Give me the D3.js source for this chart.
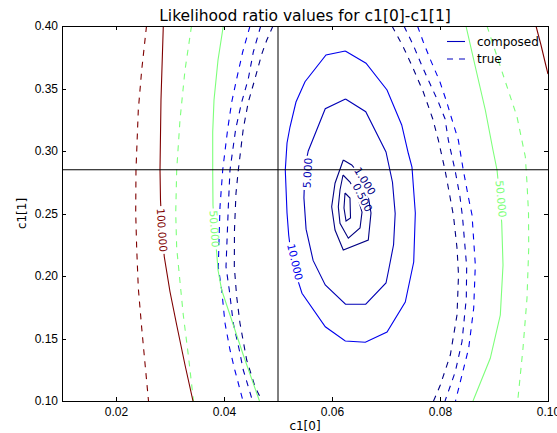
<!DOCTYPE html>
<meta charset="utf-8">
<style>
body { margin: 0; background: #fff; }
svg { font-family: "DejaVu Sans", sans-serif; }
.axis path { display: none; }
.axis line { stroke: #000; stroke-width: 1px; shape-rendering: crispEdges; }
.axis text { font-size: 12px; fill: #000; }
.contour { fill: none; stroke-width: 1.1px; }
.clabel { font-size: 10.6px; }
.cross { stroke: #000; stroke-width: 1px; }
.frame { fill: none; stroke: #000; stroke-width: 1px; shape-rendering: crispEdges; }
</style>
<body>
<svg width="557" height="433"></svg>
<script src="https://d3js.org/d3.v7.min.js"></script>
<script>
// contour levels and their (jet) colours
var levels = [0.1, 0.5, 1, 5, 10, 50, 100];
var levelColors = ["#00007f", "#00007f", "#000084", "#0000b6", "#0000ed", "#7dff7a", "#7f0000"];

var xTicks = [0.02, 0.04, 0.06, 0.08, 0.10];
var yTicks = [0.10, 0.15, 0.20, 0.25, 0.30, 0.35, 0.40];

var crossX = 0.05, crossY = 0.285;

// composed likelihood ratio (solid)
var composed01 = [[0.06241,0.2664],[0.06333,0.2624],[0.06343,0.2464],[0.0626,0.244],[0.06222,0.2544],[0.06241,0.2664]];
var composed05 = [[0.06204,0.2808],[0.06333,0.2752],[0.06463,0.2648],[0.06556,0.2512],[0.06519,0.2384],[0.06302,0.2302],[0.06148,0.2422],[0.06117,0.2554],[0.06148,0.2688],[0.06204,0.2808]];
var composed1 = [[0.06209,0.2928],[0.06365,0.2888],[0.06519,0.2808],[0.06667,0.2648],[0.06722,0.2504],[0.06672,0.2288],[0.06209,0.2208],[0.06056,0.2368],[0.05994,0.2554],[0.06056,0.2742],[0.06209,0.2928]];
var composed5 = [[0.0625,0.3416],[0.06625,0.3314],[0.07,0.2992],[0.0712,0.275],[0.0717,0.25],[0.0714,0.225],[0.0705,0.205],[0.07,0.1944],[0.06625,0.1774],[0.0625,0.1774],[0.05875,0.1928],[0.0565,0.2125],[0.0552,0.2375],[0.0548,0.2625],[0.055,0.2875],[0.0556,0.30],[0.05875,0.3338],[0.0625,0.3416]];
var composed10 = [[0.06246,0.380],[0.0663,0.3702],[0.07019,0.3488],[0.07291,0.3208],[0.07413,0.2982],[0.07481,0.2872],[0.07543,0.2504],[0.07513,0.2112],[0.07357,0.1792],[0.07019,0.1552],[0.06617,0.147],[0.06246,0.148],[0.05876,0.1594],[0.05444,0.1862],[0.05259,0.2112],[0.05198,0.2328],[0.05167,0.2504],[0.05135,0.2848],[0.05167,0.3064],[0.05222,0.3192],[0.05333,0.3392],[0.0550,0.3554],[0.05889,0.3768],[0.06246,0.380]];
var composedL50 = [[0.03987,0.4],[0.03889,0.3728],[0.03815,0.3408],[0.03791,0.3152],[0.03791,0.2848],[0.03796,0.2568],[0.03824,0.2368],[0.03865,0.2184],[0.03889,0.2048],[0.03957,0.1888],[0.04111,0.1688],[0.04357,0.1368],[0.04657,0.1]];
var composedR50 = [[0.08481,0.4],[0.08654,0.3674],[0.08839,0.3328],[0.08981,0.3008],[0.09056,0.2848],[0.09102,0.2648],[0.09143,0.2424],[0.09167,0.2088],[0.09117,0.1688],[0.08931,0.1342],[0.08611,0.1]];
var composedL100 = [[0.02876,0.4],[0.02833,0.3408],[0.02815,0.2848],[0.02824,0.2608],[0.02852,0.2368],[0.02894,0.2154],[0.03,0.1874],[0.03124,0.1608],[0.03278,0.1288],[0.03426,0.1]];
var composedR100 = [[0.09778,0.4],[0.0987,0.3848],[0.09963,0.368],[0.1,0.3616]];

// true likelihood ratio (dashed)
var trueL1 = [[0.04907,0.4],[0.04791,0.3886],[0.04698,0.3774],[0.04574,0.3578],[0.0445,0.3392],[0.04357,0.3178],[0.04265,0.2848],[0.04222,0.2662],[0.04194,0.2368],[0.04191,0.2074],[0.04235,0.1834],[0.04296,0.1622],[0.0442,0.1328],[0.04574,0.1114],[0.04704,0.1]];
var trueL5 = [[0.0468,0.4],[0.04543,0.3792],[0.0445,0.3578],[0.04328,0.3392],[0.04217,0.3178],[0.04111,0.2848],[0.0408,0.2554],[0.04037,0.2074],[0.04098,0.1888],[0.04172,0.1622],[0.04283,0.1408],[0.04357,0.1248],[0.04528,0.1]];
var trueL10 = [[0.04481,0.4],[0.04346,0.3792],[0.04235,0.3578],[0.04143,0.3392],[0.04069,0.3178],[0.03976,0.2848],[0.03926,0.2554],[0.03894,0.2074],[0.03957,0.1888],[0.04019,0.1622],[0.04111,0.1408],[0.042,0.1248],[0.04352,0.1]];
var trueL50 = [[0.03398,0.4],[0.03278,0.3648],[0.03185,0.3248],[0.03124,0.2848],[0.03106,0.2504],[0.03124,0.2224],[0.03185,0.1954],[0.03246,0.1688],[0.03339,0.1368],[0.03435,0.1]];
var trueL100 = [[0.02565,0.4],[0.02476,0.3648],[0.02413,0.3328],[0.0237,0.2848],[0.02365,0.2504],[0.02383,0.2224],[0.02413,0.1904],[0.02476,0.1584],[0.02602,0.1]];
var trueR1 = [[0.07111,0.4],[0.0732,0.3832],[0.07506,0.3658],[0.07691,0.3472],[0.07865,0.3258],[0.07969,0.3088],[0.08093,0.2848],[0.08185,0.2634],[0.0825,0.248],[0.08315,0.2224],[0.08343,0.2008],[0.08315,0.1688],[0.08191,0.1368],[0.08006,0.1128],[0.0788,0.1]];
var trueR5 = [[0.07333,0.4],[0.07506,0.3846],[0.07661,0.3686],[0.07815,0.3538],[0.07969,0.3392],[0.08093,0.3258],[0.08154,0.3088],[0.08278,0.2848],[0.0837,0.2634],[0.08417,0.2472],[0.08494,0.2074],[0.08487,0.1822],[0.08407,0.1474],[0.08283,0.1234],[0.08093,0.1]];
var trueR10 = [[0.07583,0.4],[0.07691,0.3872],[0.07815,0.3738],[0.08,0.3552],[0.08124,0.3392],[0.08217,0.3258],[0.08339,0.3088],[0.08431,0.2848],[0.08524,0.2634],[0.08593,0.2488],[0.08654,0.2088],[0.08624,0.1742],[0.08531,0.1422],[0.08287,0.1]];
var trueR50 = [[0.0887,0.4],[0.0918,0.3594],[0.09426,0.3274],[0.0958,0.2954],[0.09611,0.2744],[0.09639,0.2504],[0.09643,0.2222],[0.09611,0.1822],[0.09537,0.1422],[0.09439,0.1]];

// inline contour labels: curve, text, data position, angle
var labelSpots = [
  { curve: "composedL100", text: "100.000", x: 0.02852, y: 0.2368, angle: 86 },
  { curve: "composedL50", text: "50.000", x: 0.03824, y: 0.2376, angle: 86 },
  { curve: "composedR50", text: "50.000", x: 0.0913, y: 0.2616, angle: 85 },
  { curve: "composed10", text: "10.000", x: 0.05315, y: 0.2112, angle: 77 },
  { curve: "composed5", text: "5.000", x: 0.05546, y: 0.2824, angle: -87 },
  { curve: "composed1", text: "1.000", x: 0.06611, y: 0.276, angle: 58 },
  { curve: "composed05", text: "0.500", x: 0.06565, y: 0.2628, angle: 63 }
];

var curves = [
  { id: "trueL100", level: 100, dashed: true, pts: trueL100 },
  { id: "trueL50", level: 50, dashed: true, pts: trueL50 },
  { id: "trueL10", level: 10, dashed: true, pts: trueL10 },
  { id: "trueL5", level: 5, dashed: true, pts: trueL5 },
  { id: "trueL1", level: 1, dashed: true, pts: trueL1 },
  { id: "trueR1", level: 1, dashed: true, pts: trueR1 },
  { id: "trueR5", level: 5, dashed: true, pts: trueR5 },
  { id: "trueR10", level: 10, dashed: true, pts: trueR10 },
  { id: "trueR50", level: 50, dashed: true, pts: trueR50 },
  { id: "composedL100", level: 100, dashed: false, pts: composedL100 },
  { id: "composedR100", level: 100, dashed: false, pts: composedR100 },
  { id: "composedL50", level: 50, dashed: false, pts: composedL50 },
  { id: "composedR50", level: 50, dashed: false, pts: composedR50 },
  { id: "composed10", level: 10, dashed: false, pts: composed10 },
  { id: "composed5", level: 5, dashed: false, pts: composed5 },
  { id: "composed1", level: 1, dashed: false, pts: composed1 },
  { id: "composed05", level: 0.5, dashed: false, pts: composed05 },
  { id: "composed01", level: 0.1, dashed: false, pts: composed01 }
];

var svg = d3.select("svg"),
    margin = {top: 26, right: 9, bottom: 32, left: 62},
    W = +svg.attr("width"), H = +svg.attr("height");

var x = d3.scaleLinear().domain([0.01, 0.10]).range([margin.left, W - margin.right]);
var y = d3.scaleLinear().domain([0.10, 0.40]).range([H - margin.bottom, margin.top]);
var color = d3.scaleOrdinal().domain(levels).range(levelColors);

var line = d3.line()
    .x(function(d) { return x(d[0]); })
    .y(function(d) { return y(d[1]); });

var defs = svg.append("defs");
defs.append("clipPath").attr("id", "plot-clip")
  .append("rect")
    .attr("x", x.range()[0]).attr("y", y.range()[1])
    .attr("width", x.range()[1] - x.range()[0])
    .attr("height", y.range()[0] - y.range()[1]);

var plot = svg.append("g").attr("clip-path", "url(#plot-clip)");

var paths = plot.selectAll("path.contour")
  .data(curves)
  .enter().append("path")
    .attr("class", "contour")
    .attr("d", function(d) { return line(d.pts); })
    .attr("stroke", function(d) { return color(d.level); })
    .attr("stroke-width", function(d) { return d.dashed && d.level <= 1 ? 2.8 : 1.1; })
    .attr("stroke-dasharray", function(d) { return d.dashed ? "6,6" : null; });

// labels, then cut the line underneath each one
var lab = plot.selectAll("text.clabel")
  .data(labelSpots)
  .enter().append("text")
    .attr("class", "clabel")
    .attr("text-anchor", "middle")
    .attr("dy", "0.36em")
    .attr("fill", function(d) { return color(curves.find(function(c) { return c.id === d.curve; }).level); })
    .attr("transform", function(d) { return "translate(" + x(d.x) + "," + y(d.y) + ") rotate(" + d.angle + ")"; })
    .text(function(d) { return d.text; });

lab.each(function(d, i) {
  var w = this.getComputedTextLength() + 4;
  var m = defs.append("mask").attr("id", "lm" + i)
      .attr("maskUnits", "userSpaceOnUse")
      .attr("x", 0).attr("y", 0).attr("width", W).attr("height", H);
  m.append("rect").attr("width", W).attr("height", H).attr("fill", "#fff");
  m.append("rect")
      .attr("x", -w / 2).attr("y", -6).attr("width", w).attr("height", 12)
      .attr("fill", "#000")
      .attr("transform", "translate(" + x(d.x) + "," + y(d.y) + ") rotate(" + d.angle + ")");
  paths.filter(function(c) { return c.id === d.curve; }).attr("mask", "url(#lm" + i + ")");
});

// cross hair
svg.append("line").attr("class", "cross")
    .attr("x1", x(crossX)).attr("x2", x(crossX))
    .attr("y1", y.range()[0]).attr("y2", y.range()[1]);
svg.append("line").attr("class", "cross")
    .attr("x1", x.range()[0]).attr("x2", x.range()[1])
    .attr("y1", y(crossY)).attr("y2", y(crossY));

// axes, ticks inside on all four sides
var fmt = d3.format(".2f");
svg.append("g").attr("class", "axis")
    .attr("transform", "translate(0," + y.range()[0] + ")")
    .call(d3.axisBottom(x).tickValues(xTicks).tickFormat(fmt).tickSizeInner(-4).tickSizeOuter(0).tickPadding(6));
svg.append("g").attr("class", "axis")
    .attr("transform", "translate(0," + y.range()[1] + ")")
    .call(d3.axisTop(x).tickValues(xTicks).tickFormat("").tickSizeInner(-4).tickSizeOuter(0));
svg.append("g").attr("class", "axis")
    .attr("transform", "translate(" + x.range()[0] + ",0)")
    .call(d3.axisLeft(y).tickValues(yTicks).tickFormat(fmt).tickSizeInner(-4).tickSizeOuter(0).tickPadding(4));
svg.append("g").attr("class", "axis")
    .attr("transform", "translate(" + x.range()[1] + ",0)")
    .call(d3.axisRight(y).tickValues(yTicks).tickFormat("").tickSizeInner(-4).tickSizeOuter(0));

svg.append("rect").attr("class", "frame")
    .attr("x", x.range()[0]).attr("y", y.range()[1])
    .attr("width", x.range()[1] - x.range()[0])
    .attr("height", y.range()[0] - y.range()[1]);

svg.append("text")
    .attr("x", (x.range()[0] + x.range()[1]) / 2).attr("y", 21)
    .attr("text-anchor", "middle").style("font-size", "15.5px")
    .text("Likelihood ratio values for c1[0]-c1[1]");

svg.append("text")
    .attr("x", (x.range()[0] + x.range()[1]) / 2).attr("y", 430)
    .attr("text-anchor", "middle").style("font-size", "12px")
    .text("c1[0]");

svg.append("text")
    .attr("transform", "translate(25.5," + (y.range()[0] + y.range()[1]) / 2 + ") rotate(-90)")
    .attr("text-anchor", "middle").style("font-size", "12px")
    .text("c1[1]");

// legend
var legendItems = [{ name: "composed", dashed: false }, { name: "true", dashed: true }];
var leg = svg.append("g").selectAll("g")
  .data(legendItems)
  .enter().append("g")
    .attr("transform", function(d, i) { return "translate(447," + (41.5 + i * 17.5) + ")"; });
leg.append("line")
    .attr("x1", 0).attr("x2", 18)
    .attr("stroke", "#0000c0").attr("stroke-width", 1.1)
    .attr("stroke-dasharray", function(d) { return d.dashed ? "6,6" : null; });
leg.append("text")
    .attr("x", 30).attr("y", 4.3)
    .style("font-size", "12px")
    .text(function(d) { return d.name; });
</script>
